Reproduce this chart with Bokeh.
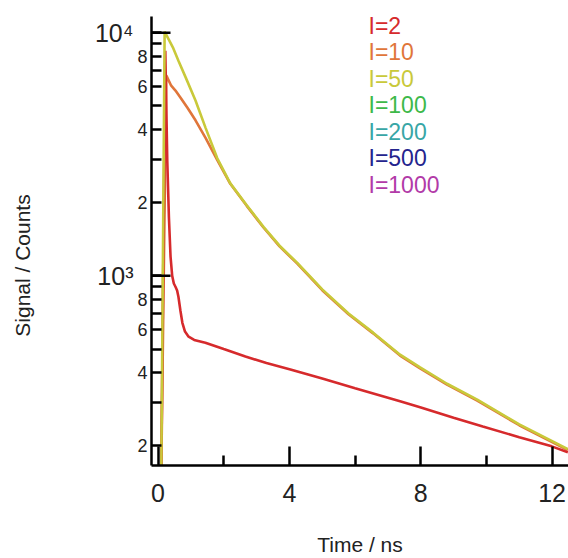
import math
from bokeh.plotting import figure
from bokeh.models import FixedTicker, Label, Range1d, LogAxis
from bokeh.embed import file_html
from bokeh.resources import INLINE

# ---- data ----
t_I2 = [0.10, 0.22, 0.28, 0.33, 0.38, 0.43, 0.48, 0.53, 0.58, 0.62, 0.68, 0.74, 0.82, 0.93, 1.10,
        1.44, 2.00, 2.66, 3.30, 4.03, 5.00, 6.00, 7.37, 7.98, 9.00, 9.89, 11.00, 11.99, 12.48]
s_I2 = [166, 8430, 2985, 1746, 1200, 1000, 930, 902, 870, 820, 720, 641, 590, 562, 545,
        531, 500, 466, 438, 412, 378, 345, 305, 288, 261, 240, 217, 199, 188]

t_I10 = [0.10, 0.25, 0.40, 0.53, 0.68, 0.90, 1.14, 1.45, 1.80, 2.20, 2.70, 3.21, 3.70, 4.24,
         5.00, 5.80, 6.55, 7.37, 7.98, 8.80, 9.72, 11.00, 12.48]
s_I10 = [166, 6670, 6050, 5780, 5415, 4900, 4360, 3680, 3000, 2390, 1940, 1580, 1322, 1122,
         873, 695, 580, 470, 416, 357, 307, 243, 192]

t_I50 = [0.10, 0.20, 0.45, 0.62, 0.85, 1.14, 1.45, 1.80, 2.20, 2.70, 3.21, 3.70, 4.24,
         5.00, 5.80, 6.55, 7.37, 7.98, 8.80, 9.72, 11.00, 12.48]
s_I50 = [166, 10100, 8700, 7670, 6500, 5260, 4050, 3050, 2400, 1950, 1590, 1330, 1130,
         880, 700, 584, 474, 420, 360, 310, 245, 194]

legend_labels = ["I=2", "I=10", "I=50", "I=100", "I=200", "I=500", "I=1000"]
legend_colors = ["#d62a2c", "#e0763a", "#c9c93a", "#3db94a", "#38a6a6", "#24248e", "#b23aa8"]

x_major = [0, 4, 8, 12]
x_minor = [2, 6, 10]
y_decades = [1000, 10000]
y_decade_labels = ["10\u00b3", "10\u2074"]
y_labelled = [200, 400, 600, 800, 2000, 4000, 6000, 8000]
y_labelled_text = ["2", "4", "6", "8", "2", "4", "6", "8"]
y_unlabelled = [300, 500, 700, 900, 1000, 3000, 5000, 7000, 9000, 10000]

# ---- figure ----
X0, X1 = -0.2, 12.5
Y0, Y1 = 166, 11650
FONT = "Liberation Sans"
TXT = "#222222"

W, H = 568, 558
BL, BR, BT, BB = 151, 0, 16, 92

p = figure(width=W, height=H, x_range=Range1d(X0, X1), y_range=Range1d(Y0, Y1),
           y_axis_type="log", output_backend="svg", toolbar_location=None,
           min_border_left=BL, min_border_right=BR, min_border_top=BT, min_border_bottom=BB)
p.outline_line_color = None
p.xgrid.grid_line_color = None
p.ygrid.grid_line_color = None

# curves
p.line(t_I10, s_I10, line_color=legend_colors[1], line_width=2.6)
p.line(t_I2, s_I2, line_color=legend_colors[0], line_width=2.6)
p.line(t_I50, s_I50, line_color=legend_colors[2], line_width=2.6)

# long decade ticks (inward, 19 px)
p.ray(x=[X0] * len(y_decades), y=y_decades, length=19, length_units="screen", angle=0,
      line_color="black", line_width=2.5)

# x axis
xa = p.xaxis[0]
xa.ticker = FixedTicker(ticks=x_major, minor_ticks=x_minor)
xa.major_tick_in = 19
xa.major_tick_out = 0
xa.minor_tick_in = 10
xa.minor_tick_out = 0
xa.axis_line_width = 2.5
xa.major_tick_line_width = 2.5
xa.minor_tick_line_width = 2.5
xa.axis_line_color = "black"
xa.major_tick_line_color = "black"
xa.minor_tick_line_color = "black"
xa.major_label_text_font = FONT
xa.major_label_text_font_size = "25px"
xa.major_label_text_line_height = 1.0
xa.major_label_text_color = TXT
xa.major_label_standoff = 18
xa.axis_label = "Time / ns"
xa.axis_label_text_font = FONT
xa.axis_label_text_font_size = "21px"
xa.axis_label_text_line_height = 1.0
xa.axis_label_text_font_style = "normal"
xa.axis_label_text_color = TXT
xa.axis_label_standoff = 28

# y axis (next to frame): short ticks, mantissa labels
ya = p.yaxis[0]
ya.ticker = FixedTicker(ticks=y_labelled, minor_ticks=y_unlabelled)
ya.major_tick_in = 10
ya.major_tick_out = 0
ya.minor_tick_in = 10
ya.minor_tick_out = 0
ya.axis_line_width = 2.5
ya.major_tick_line_width = 2.5
ya.minor_tick_line_width = 2.5
ya.axis_line_color = "black"
ya.major_tick_line_color = "black"
ya.minor_tick_line_color = "black"
ya.major_label_overrides = dict(zip(y_labelled, y_labelled_text))
ya.major_label_text_font = FONT
ya.major_label_text_font_size = "18px"
ya.major_label_text_color = TXT
ya.major_label_standoff = 4

# second y axis: decade labels only
yb = LogAxis(ticker=FixedTicker(ticks=y_decades, minor_ticks=[]),
             major_label_overrides=dict(zip(y_decades, y_decade_labels)),
             axis_line_color=None, major_tick_line_color=None, minor_tick_line_color=None,
             major_tick_in=0, major_tick_out=0, minor_tick_in=0, minor_tick_out=0,
             major_label_standoff=1, major_label_text_font=FONT,
             major_label_text_font_size="25px", major_label_text_color=TXT)
p.add_layout(yb, "left")

# y title (in the left border, so it is not clipped to the frame)
p.add_layout(Label(x=22, y=265, x_units="canvas", y_units="canvas", text="Signal / Counts",
                   angle=math.pi / 2, text_font=FONT, text_font_size="21px", text_color=TXT,
                   text_align="center", text_baseline="middle"), "left")

# legend texts
for i, (lab, col) in enumerate(zip(legend_labels, legend_colors)):
    p.add_layout(Label(x=368, y=25 + 26.5 * i, x_units="canvas", y_units="canvas",
                       text=lab, text_font=FONT, text_font_size="23px", text_color=col,
                       text_align="left", text_baseline="middle"))

open("out.html", "w").write(file_html(p, INLINE))
